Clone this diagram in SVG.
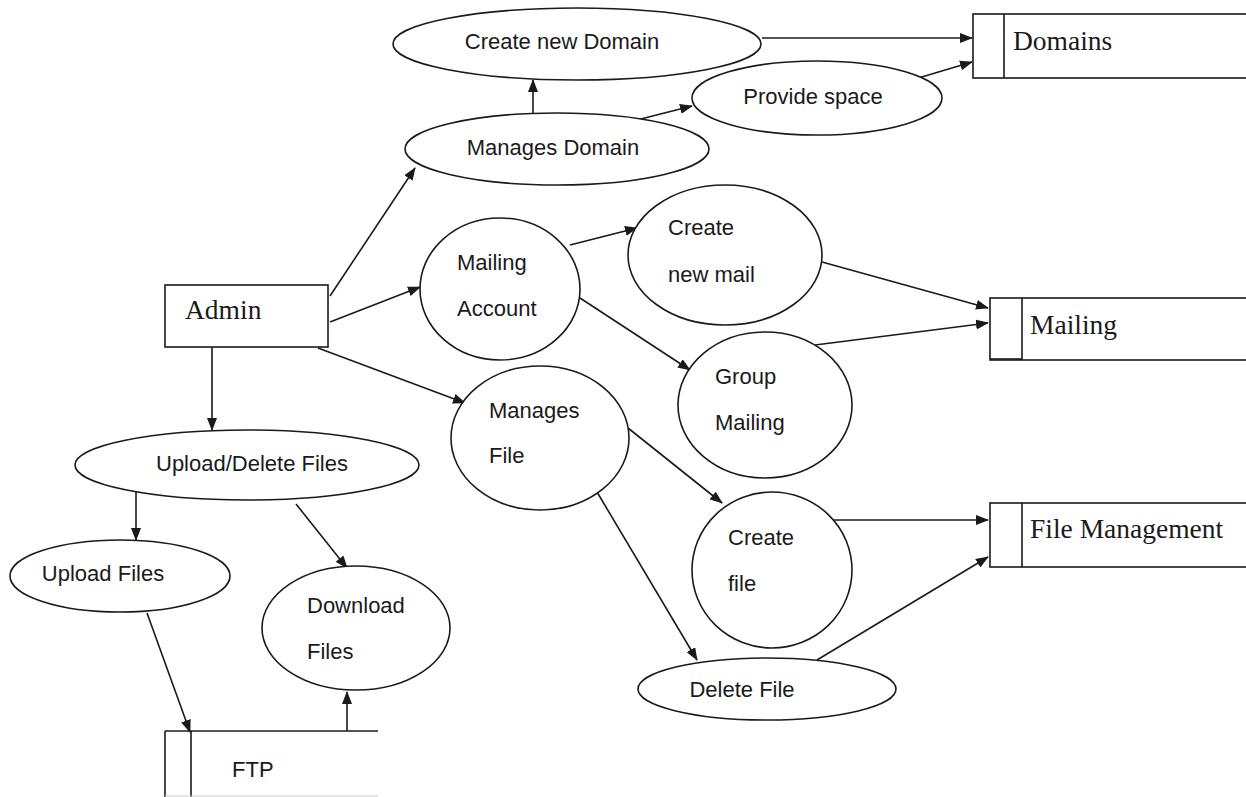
<svg xmlns="http://www.w3.org/2000/svg" width="1246" height="797" viewBox="0 0 1246 797">
  <style>
    .shape { fill: #fff; stroke: #1a1a1a; stroke-width: 1.6; }
    .line { fill: none; stroke: #1a1a1a; stroke-width: 1.6; }
    .flow { fill: none; stroke: #1a1a1a; stroke-width: 1.6; marker-end: url(#arrow); }
    .lbl { font-family: "Liberation Sans", Arial, sans-serif; font-size: 22px; fill: #1a1a1a; }
    .store { font-family: "Liberation Serif", "Times New Roman", serif; font-size: 27.5px; fill: #1a1a1a; }
  </style>
  <defs>
    <marker id="arrow" viewBox="0 0 13 10" refX="12" refY="5" markerWidth="13" markerHeight="10" markerUnits="userSpaceOnUse" orient="auto">
      <path d="M0,0 L13,5 L0,10 Z" fill="#1a1a1a"/>
    </marker>
  </defs>
  <rect width="1246" height="797" fill="#fff"/>

  <!-- connectors -->
  <g id="connectors">
    <line class="flow" x1="762" y1="38" x2="972" y2="38"/>
    <line class="flow" x1="915" y1="79" x2="972" y2="62"/>
    <line class="flow" x1="533" y1="114" x2="533" y2="80"/>
    <line class="flow" x1="625" y1="123" x2="692" y2="106"/>
    <line class="flow" x1="330" y1="296" x2="415" y2="168"/>
    <line class="flow" x1="330" y1="322" x2="420" y2="287"/>
    <line class="flow" x1="318" y1="348" x2="465" y2="403"/>
    <line class="flow" x1="212" y1="347" x2="212" y2="430"/>
    <line class="flow" x1="570" y1="245" x2="637" y2="228"/>
    <line class="flow" x1="580" y1="298" x2="690" y2="370"/>
    <line class="flow" x1="822" y1="262" x2="988" y2="308"/>
    <line class="flow" x1="815" y1="345" x2="988" y2="323"/>
    <line class="flow" x1="628" y1="428" x2="722" y2="503"/>
    <line class="flow" x1="597" y1="492" x2="697" y2="660"/>
    <line class="flow" x1="834" y1="520" x2="988" y2="520"/>
    <line class="flow" x1="817" y1="660" x2="988" y2="557"/>
    <line class="flow" x1="136" y1="492" x2="136" y2="540"/>
    <line class="flow" x1="296" y1="504" x2="347" y2="568"/>
    <line class="flow" x1="147" y1="613" x2="190" y2="732"/>
    <line class="flow" x1="347" y1="731" x2="347" y2="692"/>
  </g>

  <!-- external entity -->
  <g id="admin">
    <rect class="shape" x="165" y="285" width="163" height="62"/>
    <text class="store" x="185" y="319">Admin</text>
  </g>

  <!-- processes -->
  <g id="create-new-domain">
    <ellipse class="shape" cx="577" cy="44" rx="184" ry="36"/>
    <text class="lbl" x="562" y="49" text-anchor="middle">Create new Domain</text>
  </g>
  <g id="manages-domain">
    <ellipse class="shape" cx="557" cy="149" rx="152" ry="36"/>
    <text class="lbl" x="553" y="155" text-anchor="middle">Manages Domain</text>
  </g>
  <g id="provide-space">
    <ellipse class="shape" cx="817" cy="98" rx="125" ry="37"/>
    <text class="lbl" x="813" y="104" text-anchor="middle">Provide  space</text>
  </g>
  <g id="mailing-account">
    <ellipse class="shape" cx="500" cy="289" rx="80" ry="71"/>
    <text class="lbl" x="457" y="270">Mailing</text>
    <text class="lbl" x="457" y="316">Account</text>
  </g>
  <g id="create-new-mail">
    <ellipse class="shape" cx="725" cy="255" rx="97" ry="70"/>
    <text class="lbl" x="668" y="235">Create</text>
    <text class="lbl" x="668" y="282">new mail</text>
  </g>
  <g id="group-mailing">
    <ellipse class="shape" cx="765" cy="405" rx="87" ry="73"/>
    <text class="lbl" x="715" y="384">Group</text>
    <text class="lbl" x="715" y="430">Mailing</text>
  </g>
  <g id="manages-file">
    <ellipse class="shape" cx="540" cy="438" rx="89" ry="72"/>
    <text class="lbl" x="489" y="418">Manages</text>
    <text class="lbl" x="489" y="463">File</text>
  </g>
  <g id="create-file">
    <ellipse class="shape" cx="772" cy="570" rx="80" ry="78"/>
    <text class="lbl" x="728" y="545">Create</text>
    <text class="lbl" x="728" y="591">file</text>
  </g>
  <g id="delete-file">
    <ellipse class="shape" cx="767" cy="689" rx="129" ry="31"/>
    <text class="lbl" x="742" y="697" text-anchor="middle">Delete File</text>
  </g>
  <g id="upload-delete-files">
    <ellipse class="shape" cx="247" cy="465" rx="172" ry="35"/>
    <text class="lbl" x="252" y="471" text-anchor="middle">Upload/Delete  Files</text>
  </g>
  <g id="upload-files">
    <ellipse class="shape" cx="120" cy="576" rx="110" ry="36"/>
    <text class="lbl" x="103" y="581" text-anchor="middle">Upload Files</text>
  </g>
  <g id="download-files">
    <ellipse class="shape" cx="356" cy="628" rx="94" ry="62"/>
    <text class="lbl" x="307" y="613">Download</text>
    <text class="lbl" x="307" y="659">Files</text>
  </g>

  <!-- data stores -->
  <g id="store-domains">
    <rect class="shape" x="973" y="14" width="290" height="64"/>
    <line class="line" x1="1004" y1="14" x2="1004" y2="78"/>
    <text class="store" x="1013" y="50">Domains</text>
  </g>
  <g id="store-mailing">
    <rect class="shape" x="990" y="298" width="270" height="62"/>
    <line class="line" x1="1022" y1="298" x2="1022" y2="360"/>
    <line class="line" x1="990" y1="359" x2="1022" y2="359" stroke-width="2.5"/>
    <text class="store" x="1030" y="334">Mailing</text>
  </g>
  <g id="store-file-management">
    <rect class="shape" x="990" y="503" width="270" height="64"/>
    <line class="line" x1="1022" y1="503" x2="1022" y2="567"/>
    <text class="store" x="1030" y="538">File Management</text>
  </g>
  <g id="store-ftp">
    <line class="line" x1="165" y1="731" x2="378" y2="731"/>
    <line class="line" x1="165" y1="731" x2="165" y2="797"/>
    <line class="line" x1="191" y1="731" x2="191" y2="797"/>
    <line x1="165" y1="796" x2="378" y2="796" stroke="#ccc" stroke-width="1"/>
    <text class="lbl" x="232" y="777">FTP</text>
  </g>
</svg>
